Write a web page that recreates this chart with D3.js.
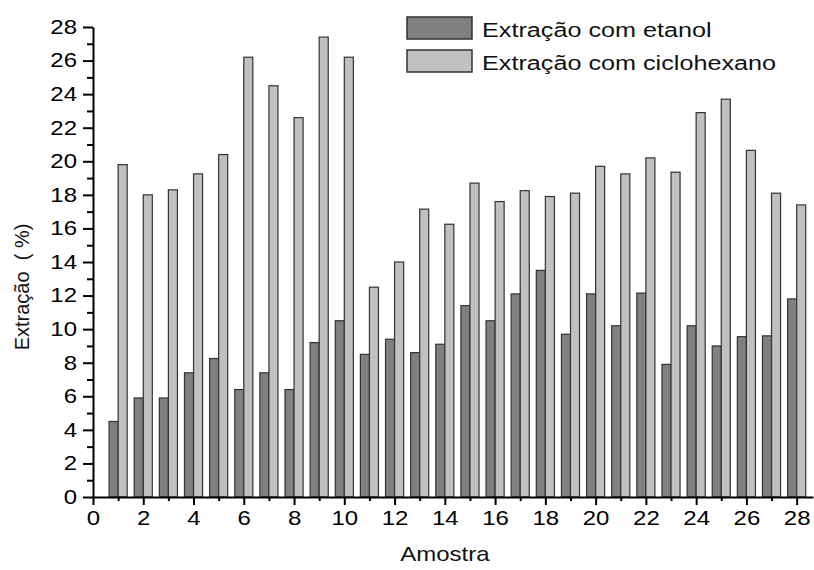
<!DOCTYPE html>
<html>
<head>
<meta charset="utf-8">
<script src="https://cdn.jsdelivr.net/npm/d3@7"></script>
<style>
  body { margin: 0; background: #fff; }
  svg { display: block; font-family: "Liberation Sans", Arial, sans-serif; }
</style>
</head>
<body>
<div id="chart"></div>
<script>
// sample numbers on the x axis
const amostras = d3.range(1, 29);

// extraction (%) with ethanol
const etanol = [4.5, 5.9, 5.9, 7.4, 8.25, 6.4, 7.4, 6.4, 9.2, 10.5,
  8.5, 9.4, 8.6, 9.1, 11.4, 10.5, 12.1, 13.5, 9.7, 12.1,
  10.2, 12.15, 7.9, 10.2, 9.0, 9.55, 9.6, 11.8];

// extraction (%) with cyclohexane
const ciclohexano = [19.8, 18.0, 18.3, 19.25, 20.4, 26.2, 24.5, 22.6, 27.4, 26.2,
  12.5, 14.0, 17.15, 16.25, 18.7, 17.6, 18.25, 17.9, 18.1, 19.7,
  19.25, 20.2, 19.35, 22.9, 23.7, 20.65, 18.1, 17.4];

const series = [
  { name: "Extração com etanol", values: etanol, color: "#808080", side: -1 },
  { name: "Extração com ciclohexano", values: ciclohexano, color: "#c0c0c0", side: 0 }
];

const xMajor = d3.range(0, 29, 2);
const xMinor = d3.range(1, 29, 2);
const yMajor = d3.range(0, 29, 2);
const yMinor = d3.range(1, 28, 2);

const W = 814, H = 570;
const barW = 0.36; // in x units
const stretch = 1.2; // the reference text is a bit wide

const svg = d3.select("#chart").append("svg")
  .attr("width", W)
  .attr("height", H);

const x = d3.scaleLinear().domain([0, 28.65]).range([93, 813]);
const y = d3.scaleLinear().domain([0, 28]).range([497, 27]);

// widen a text element horizontally around its anchor
function widen(sel) {
  sel.each(function () {
    const t = d3.select(this);
    const tx = +t.attr("x") || 0, ty = +t.attr("y") || 0;
    t.attr("x", 0).attr("y", 0)
      .attr("transform", `translate(${tx},${ty}) scale(${stretch},1)`);
  });
}

// bars
series.forEach(s => {
  svg.append("g")
    .selectAll("rect")
    .data(s.values)
    .join("rect")
    .attr("x", (d, i) => x(amostras[i] + s.side * barW))
    .attr("width", x(barW) - x(0))
    .attr("y", d => y(d))
    .attr("height", d => y(0) - y(d))
    .attr("fill", s.color)
    .attr("stroke", "#333")
    .attr("stroke-width", 1.2);
});

// minor ticks
svg.append("g")
  .attr("transform", `translate(0,${y(0)})`)
  .call(d3.axisBottom(x).tickValues(xMinor).tickSize(4).tickFormat(""))
  .call(g => g.select(".domain").remove());
svg.append("g")
  .attr("transform", `translate(${x(0)},0)`)
  .call(d3.axisLeft(y).tickValues(yMinor).tickSize(6).tickFormat(""))
  .call(g => g.select(".domain").remove());

// major axes
const xAxis = svg.append("g")
  .attr("transform", `translate(0,${y(0)})`)
  .call(d3.axisBottom(x).tickValues(xMajor).tickSize(8).tickSizeOuter(0).tickPadding(6));
const yAxis = svg.append("g")
  .attr("transform", `translate(${x(0)},0)`)
  .call(d3.axisLeft(y).tickValues(yMajor).tickSize(10).tickSizeOuter(0).tickPadding(6));

svg.selectAll(".domain, .tick line").attr("stroke", "#000").attr("stroke-width", 2);
svg.selectAll(".tick text")
  .attr("font-size", 20)
  .attr("font-family", "Liberation Sans, Arial, sans-serif")
  .attr("fill", "#000");
xAxis.selectAll(".tick text").attr("dy", "0.71em");
xAxis.selectAll(".tick text").call(widen);
yAxis.selectAll(".tick text").call(widen);

// axis titles
const xt = svg.append("text")
  .attr("x", (x(0) + x(28)) / 2)
  .attr("y", 561)
  .attr("text-anchor", "middle")
  .attr("font-size", 20)
  .attr("fill", "#111")
  .text("Amostra");
widen(xt);

svg.append("text")
  .attr("transform", "translate(29,287) rotate(-90)")
  .attr("text-anchor", "middle")
  .attr("font-size", 20)
  .attr("fill", "#111")
  .style("white-space", "pre")
  .text("Extração  ( %)");

// legend
const legend = svg.append("g").attr("transform", "translate(407,17)");
const item = legend.selectAll("g")
  .data(series)
  .join("g")
  .attr("transform", (d, i) => `translate(0,${i * 33})`);
item.append("rect")
  .attr("width", 65)
  .attr("height", 22)
  .attr("fill", d => d.color)
  .attr("stroke", "#333")
  .attr("stroke-width", 1.5);
item.append("text")
  .attr("x", 75)
  .attr("y", 20)
  .attr("font-size", 21)
  .attr("fill", "#111")
  .text(d => d.name)
  .call(widen);
</script>
</body>
</html>
